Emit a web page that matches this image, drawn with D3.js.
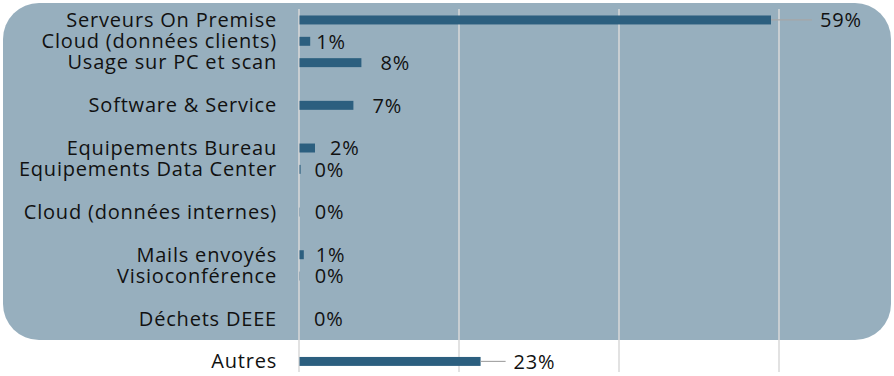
<!DOCTYPE html>
<html lang="fr">
<head>
  <meta charset="UTF-8">
  <title>Répartition des émissions</title>
  <script src="https://d3js.org/d3.v7.min.js"></script>
</head>
<style>
  :root {
    --panel-color: #97AFBE;
    --bar-color: #2C5F7F;
    --grid-color: #D9D9D9;
    --text-color: #111111;
  }

  body {
    margin: 0;
    background: #ffffff;
  }

  text {
    font-family: "Open Sans", "DejaVu Sans", sans-serif;
    fill: var(--text-color);
    letter-spacing: 0.8px;
  }

  .axis text {
    font-size: 20px;
  }

  .value-label {
    font-size: 20px;
  }
</style>
<body>
  <div id="chart"></div>

  <script>
    // ## Data (blank entries are the empty rows of the source sheet)
    const categories = [
      "Serveurs On Premise",
      "Cloud (données clients)",
      "Usage sur PC et scan",
      "",
      "Software & Service",
      "",
      "Equipements Bureau",
      "Equipements Data Center",
      "",
      "Cloud (données internes)",
      "",
      "Mails envoyés",
      "Visioconférence",
      "",
      "Déchets DEEE",
      "",
      "Autres"
    ];
    const shares = [0.59, 0.014, 0.078, null, 0.068, null, 0.02, 0.002, null, 0.001, null, 0.006, 0.001, null, 0, null, 0.227];
    const xTicks = [0, 0.2, 0.4, 0.6, 0.8];

    // label nudges (px) as they were hand-placed in the original
    const labelNudge = [49, 6, 19, 23, 19, 19, 15, 14, 15, 15, 12, 12, 15, 15, 15, 15, 33];

    // ## Dimensions
    const dimensions = {
      width: 894,
      height: 376,
      plotLeft: 299,
      top: 9,
      bottom: 372
    };

    const svg = d3.select("#chart")
      .append("svg")
        .attr("width", dimensions.width)
        .attr("height", dimensions.height);

    // ## Panel behind the chart
    svg.append("rect")
      .attr("x", 3)
      .attr("y", 3)
      .attr("width", 888)
      .attr("height", 337)
      .attr("rx", 36)
      .attr("ry", 36)
      .style("fill", "var(--panel-color)");

    // ## Scales
    const rows = d3.range(categories.length);

    const yScale = d3.scaleBand()
      .domain(rows)
      .range([9.3, 372.1])
      .paddingInner(0.58)
      .paddingOuter(0.29);

    const xScale = d3.scaleLinear()
      .domain([0, 0.8])
      .range([dimensions.plotLeft, dimensions.plotLeft + 640]);

    // ## Gridlines
    svg.append("g")
      .selectAll("line")
      .data(xTicks)
      .join("line")
        .attr("x1", d => xScale(d))
        .attr("x2", d => xScale(d))
        .attr("y1", dimensions.top)
        .attr("y2", dimensions.bottom)
        .attr("stroke", "var(--grid-color)")
        .attr("stroke-width", 1.5);

    // ## Category axis
    svg.append("g")
      .attr("class", "axis")
      .attr("transform", `translate(${dimensions.plotLeft},0)`)
      .call(d3.axisLeft(yScale)
        .tickSize(0)
        .tickPadding(22)
        .tickFormat(i => categories[i]))
      .call(g => g.select(".domain").remove())
      .call(g => g.selectAll(".tick text")
        .attr("fill", "var(--text-color)")
        .attr("dy", "0.34em"));

    // ## Bars
    const data = rows
      .filter(i => shares[i] !== null)
      .map(i => ({ row: i, value: shares[i] }));

    svg.append("g")
      .selectAll("rect")
      .data(data)
      .join("rect")
        .attr("x", xScale(0) + 0.5)
        .attr("y", d => yScale(d.row))
        .attr("width", d => Math.max(0, xScale(d.value) - xScale(0) - 0.5))
        .attr("height", yScale.bandwidth())
        .style("fill", "var(--bar-color)");

    // ## Value labels + leader lines
    const fmt = d3.format(".0%");
    const labels = svg.append("g");

    data.forEach(d => {
      const end = xScale(d.value);
      const cy = yScale(d.row) + yScale.bandwidth() / 2;
      const nudge = labelNudge[d.row];

      if (nudge > 20) {
        labels.append("line")
          .attr("x1", end)
          .attr("x2", end + nudge - 8)
          .attr("y1", cy)
          .attr("y2", cy)
          .attr("stroke", "#A6A6A6")
          .attr("stroke-width", 1.2);
      }

      labels.append("text")
        .attr("class", "value-label")
        .attr("x", end + nudge)
        .attr("y", cy)
        .attr("dy", "0.36em")
        .text(fmt(d.value));
    });
  </script>
</body>
</html>
